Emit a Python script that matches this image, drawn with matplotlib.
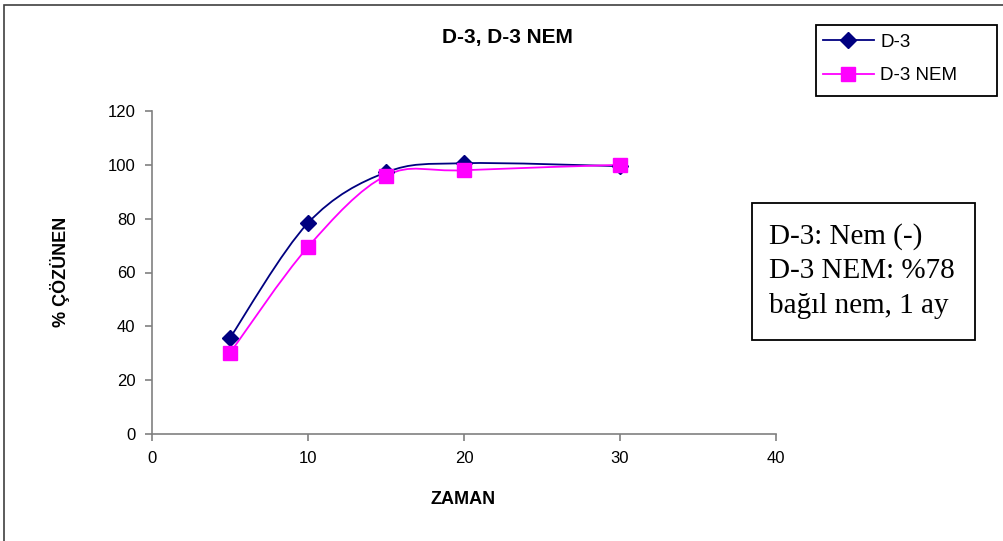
import matplotlib
matplotlib.use("Agg")
import matplotlib.pyplot as plt
from matplotlib.path import Path
from matplotlib.patches import PathPatch, Rectangle
from matplotlib.lines import Line2D
import numpy as np

plt.rcParams['font.family'] = ['Liberation Sans', 'DejaVu Sans']

zaman = [5, 10, 15, 20, 30]
d3 = [35.7, 78.4, 97.2, 100.6, 99.5]
d3_nem = [30.1, 69.5, 96.0, 98.0, 100.0]
series_names = ["D-3", "D-3 NEM"]
x_ticks = [0, 10, 20, 30, 40]
y_ticks = [0, 20, 40, 60, 80, 100, 120]
title = "D-3, D-3 NEM"
xlabel = "ZAMAN"
ylabel = "% ÇÖZÜNEN"
note = "D-3: Nem (-)\nD-3 NEM: %78\nbağıl nem, 1 ay"

NAVY = "#000080"
MAGENTA = "#FF00FF"
W, H = 1004, 541


def fx(px):
    return px / W


def fy(py):
    return 1 - py / H


def smooth_path(x, y):
    pts = np.column_stack([x, y]).astype(float)
    n = len(pts)
    verts = [pts[0]]
    codes = [Path.MOVETO]
    for i in range(n - 1):
        p0 = pts[i - 1] if i > 0 else pts[i]
        p1 = pts[i]
        p2 = pts[i + 1]
        p3 = pts[i + 2] if i + 2 < n else pts[i + 1]
        c1 = p1 + (p2 - p0) / 6.0
        c2 = p2 - (p3 - p1) / 6.0
        verts += [c1, c2, p2]
        codes += [Path.CURVE4] * 3
    return Path(verts, codes)


fig = plt.figure(figsize=(W / 100, H / 100), dpi=100)
ax = fig.add_axes([fx(152), fy(434), (776 - 152) / W, (434 - 111) / H])

for ys, col, mk, ms in [(d3, NAVY, 'D', 8), (d3_nem, MAGENTA, 's', 9.5)]:
    ax.add_patch(PathPatch(smooth_path(zaman, ys), facecolor='none', edgecolor=col, lw=1.3, zorder=2))
    ax.plot(zaman, ys, linestyle='none', marker=mk, color=col, markersize=ms, zorder=3)

ax.set_xlim(0, 40)
ax.set_ylim(0, 120)
ax.set_xticks(x_ticks)
ax.set_yticks(y_ticks)
for s in ['top', 'right']:
    ax.spines[s].set_visible(False)
for s in ['left', 'bottom']:
    ax.spines[s].set_color('#808080')
    ax.spines[s].set_linewidth(1.2)
ax.tick_params(direction='out', length=5, width=1.2, color='#808080', labelsize=12, pad=7)
ax.set_facecolor('none')

fig.text(fx(507), fy(38), title, ha='center', va='center', fontsize=15, fontweight='bold')
fig.text(fx(463), fy(499), xlabel, ha='center', va='center', fontsize=13, fontweight='bold')
fig.text(fx(60), fy(272), ylabel, ha='center', va='center', rotation=90, fontsize=13, fontweight='bold')

# outer frame
fig.patches.append(Rectangle((fx(4), -0.1), 1.2, fy(5) + 0.1, transform=fig.transFigure,
                             fill=False, edgecolor='#404040', lw=1.2, zorder=0))

# legend box
fig.patches.append(Rectangle((fx(816), fy(96)), (997 - 816) / W, (96 - 25) / H,
                             transform=fig.transFigure, facecolor='white',
                             edgecolor='black', lw=1.3, zorder=1))
handles = [Line2D([], [], color=NAVY, marker='D', markersize=8, lw=1.3),
           Line2D([], [], color=MAGENTA, marker='s', markersize=9.5, lw=1.3)]
leg = fig.legend(handles, series_names, loc='center left',
                 bbox_to_anchor=(fx(823), fy(59)), bbox_transform=fig.transFigure,
                 fontsize=13.5, frameon=False, borderpad=0, borderaxespad=0,
                 handlelength=2.7, labelspacing=0.85, handletextpad=0.35)
leg.set_zorder(2)

# note box
fig.patches.append(Rectangle((fx(752), fy(340)), (975 - 752) / W, (340 - 203) / H,
                             transform=fig.transFigure, facecolor='white',
                             edgecolor='black', lw=1.3, zorder=1))
fig.text(fx(769), fy(271), note, ha='left', va='center', fontsize=21,
         family='Liberation Serif', linespacing=1.42, zorder=2)

fig.savefig('out.png', dpi=100)
